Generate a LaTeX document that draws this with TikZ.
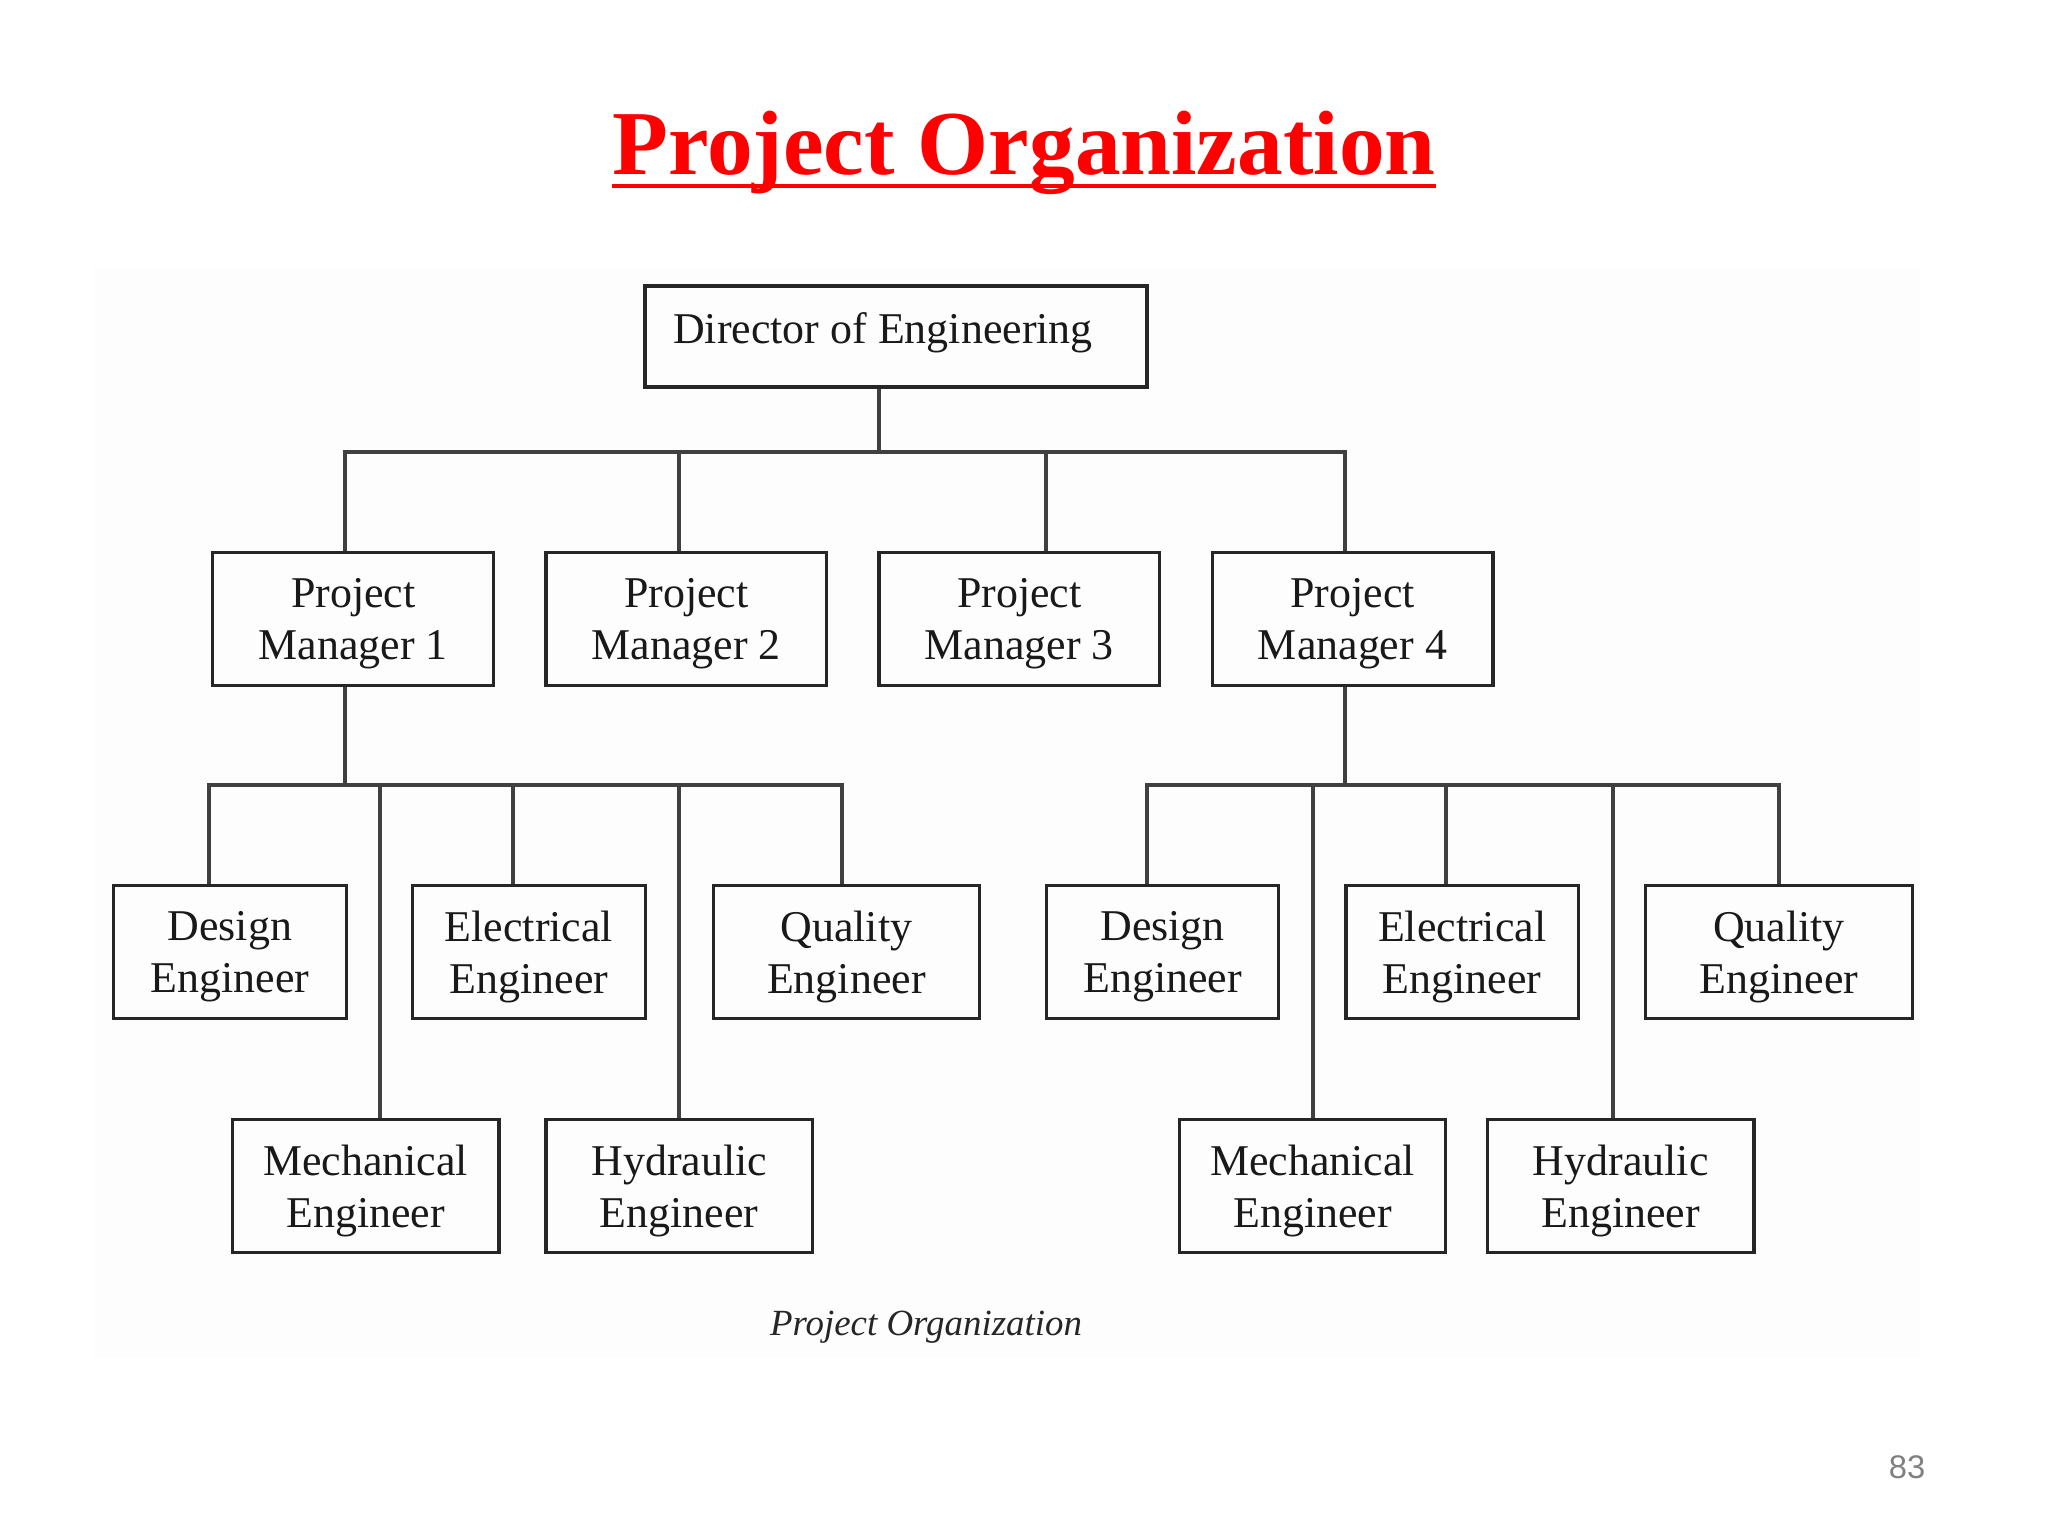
\documentclass[tikz,border=0pt]{standalone}
\usepackage{fontspec}
\setmainfont{Liberation Serif}
\newfontfamily\pagefont{Liberation Sans}
\usetikzlibrary{calc}
\tikzset{
  box/.style={draw=black!85, line width=0.9pt, inner sep=0pt, align=center,
    font=\fontsize{12.5}{14.8}\selectfont, text=black!90, minimum height=13.3mm,
    text depth=0pt},
  narrowbox/.style={box, minimum width=23.25mm},
  widebox/.style={box, minimum width=26.65mm},
  pmbox/.style={box, minimum width=28.08mm},
  conn/.style={draw=black!75, line width=0.9pt},
}
\begin{document}
\begin{tikzpicture}[x=0.1mm,y=-0.1mm]
\useasboundingbox (0,0) rectangle (2048,1536);
% faint panel
\fill[black!0.8] (94,268) rectangle (1920,1358);
% title
\node[anchor=base, inner sep=0pt, text=red, font=\fontsize{26}{30}\selectfont\bfseries] (title) at (1024,174) {Project Organization};
\draw[red, line width=1.2pt] ($(title.base west)+(0,12)$) -- ($(title.base east)+(0,12)$);
% director
\node[box, minimum width=50.2mm, minimum height=10.1mm] (dir) at (896,336.5) {};
\node[inner sep=0pt, font=\fontsize{12.5}{14.8}\selectfont, text=black!90] (dirtext) at (883,333) {Director of Engineering};
% project managers
\node[pmbox] (pm1) at (353.3,619.1) {Project\\Manager 1};
\node[pmbox] (pm2) at (686.4,619.1) {Project\\Manager 2};
\node[pmbox] (pm3) at (1019.4,619.1) {Project\\Manager 3};
\node[pmbox] (pm4) at (1352.5,619.1) {Project\\Manager 4};
% row 3
\node[narrowbox] (des1) at (229.9,952.2) {Design\\Engineer};
\node[narrowbox] (ele1) at (529.0,952.2) {Electrical\\Engineer};
\node[widebox] (qua1) at (846.4,952.2) {Quality\\Engineer};
\node[narrowbox] (des2) at (1162.5,952.2) {Design\\Engineer};
\node[narrowbox] (ele2) at (1462.2,952.2) {Electrical\\Engineer};
\node[widebox] (qua2) at (1778.9,952.2) {Quality\\Engineer};
% row 4
\node[widebox] (mec1) at (365.7,1185.9) {Mechanical\\Engineer};
\node[widebox] (hyd1) at (679.2,1185.9) {Hydraulic\\Engineer};
\node[widebox] (mec2) at (1312.6,1185.9) {Mechanical\\Engineer};
\node[widebox] (hyd2) at (1620.8,1185.9) {Hydraulic\\Engineer};
% top bus
\coordinate (t0) at (879,452);
\coordinate (tL) at (345,452);
\coordinate (t2) at (679,452);
\coordinate (t3) at (1046,452);
\coordinate (tR) at (1345,452);
\draw[conn] (dir.south -| t0) -- (t0);
\draw[conn] (tL |- pm1.north) -- (tL) -- (tR) -- (tR |- pm4.north);
\draw[conn] (t2) -- (t2 |- pm2.north);
\draw[conn] (t3) -- (t3 |- pm3.north);
% left bus
\coordinate (m0) at (345,785);
\coordinate (mL) at (209,785);
\coordinate (m2) at (380,785);
\coordinate (m3) at (513,785);
\coordinate (m4) at (679,785);
\coordinate (mR) at (842,785);
\draw[conn] (pm1.south -| m0) -- (m0);
\draw[conn] (mL |- des1.north) -- (mL) -- (mR) -- (mR |- qua1.north);
\draw[conn] (m2) -- (m2 |- mec1.north);
\draw[conn] (m3) -- (m3 |- ele1.north);
\draw[conn] (m4) -- (m4 |- hyd1.north);
% right bus
\coordinate (r0) at (1345,785);
\coordinate (rL) at (1147,785);
\coordinate (r2) at (1313,785);
\coordinate (r3) at (1446,785);
\coordinate (r4) at (1613,785);
\coordinate (rR) at (1779,785);
\draw[conn] (pm4.south -| r0) -- (r0);
\draw[conn] (rL |- des2.north) -- (rL) -- (rR) -- (rR |- qua2.north);
\draw[conn] (r2) -- (r2 |- mec2.north);
\draw[conn] (r3) -- (r3 |- ele2.north);
\draw[conn] (r4) -- (r4 |- hyd2.north);
% caption
\node[inner sep=0pt, font=\fontsize{10.5}{12}\selectfont\itshape, text=black!85] (caption) at (926,1327) {Project Organization};
% page number
\node[inner sep=0pt, font=\pagefont\fontsize{9.3}{11}\selectfont, text=black!50] (page) at (1907,1467) {83};
\end{tikzpicture}
\end{document}
